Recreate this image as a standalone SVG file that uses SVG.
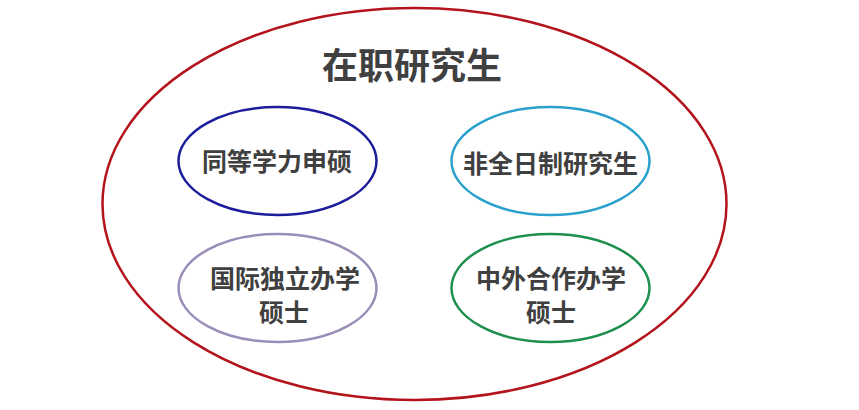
<svg xmlns="http://www.w3.org/2000/svg" width="859" height="410" viewBox="0 0 859 410">
<style>
.t{font-family:"Liberation Sans","Noto Sans CJK SC",sans-serif;font-weight:bold;fill:#404040;text-anchor:middle}
.n{font-size:25px}
.o{fill:none;stroke-width:2.5}
</style>
<rect width="859" height="410" fill="#ffffff"/>
<g id="outer">
<ellipse class="o" cx="414.5" cy="204" rx="312" ry="196" stroke="#b3131b" stroke-width="2"/>
<text class="t" x="412" y="79" font-size="36">在职研究生</text>
</g>
<g id="connectors"></g>
<g id="node1">
<ellipse class="o" cx="277.5" cy="161" rx="99" ry="54" stroke="#1c1c9c"/>
<text class="t n" x="277" y="171">同等学力申硕</text>
</g>
<g id="node2">
<ellipse class="o" cx="550.5" cy="161" rx="99" ry="54" stroke="#2aa0cc"/>
<text class="t n" x="550.5" y="173">非全日制研究生</text>
</g>
<g id="node3">
<ellipse class="o" cx="277.5" cy="288" rx="99" ry="54" stroke="#9b8db9"/>
<text class="t n" x="285" y="288">国际独立办学</text>
<text class="t n" x="284" y="322">硕士</text>
</g>
<g id="node4">
<ellipse class="o" cx="550.5" cy="288" rx="99" ry="54" stroke="#1e8f4c"/>
<text class="t n" x="551" y="288">中外合作办学</text>
<text class="t n" x="551" y="322">硕士</text>
</g>
</svg>
